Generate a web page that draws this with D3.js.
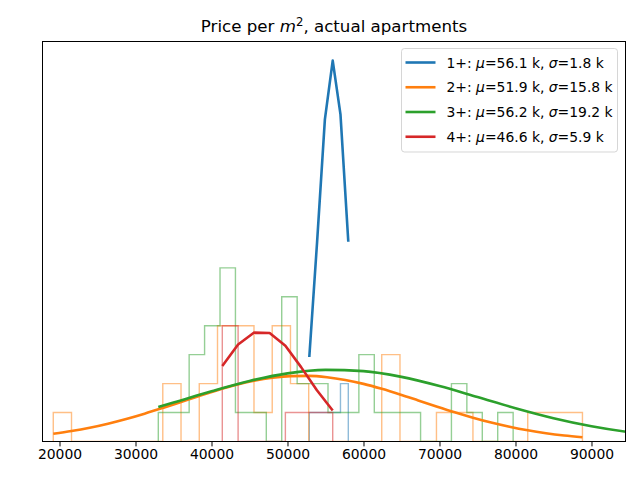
<!DOCTYPE html>
<html><head><meta charset="utf-8">
<script src="https://cdn.jsdelivr.net/npm/d3@7/dist/d3.min.js"></script>
<style>
body{margin:0;background:#fff}
svg{display:block}
text{font-family:"DejaVu Sans",sans-serif;fill:#000}
</style>
</head><body>
<svg id="chart" width="640" height="480"></svg>
<script>
// ---------------- data ----------------
const seriesNames = ["1+", "2+", "3+", "4+"];
const seriesMu = [56.1, 51.9, 56.2, 46.6];
const seriesSigma = [1.8, 15.8, 19.2, 5.9];
const seriesColors = ["#1f77b4", "#ff7f0e", "#2ca02c", "#d62728"];

const xTicks = [20000, 30000, 40000, 50000, 60000, 70000, 80000, 90000];

// histogram bin edges and counts
const blueBinEdges = [52870, 53895, 54920, 55950, 56970, 58000];
const blueCounts = [1, 1, 1, 1, 2];

const orangeBinEdges = [19180, 21580, 23980, 26380, 28780, 31190, 33590, 35990, 38390, 40790,
  43190, 45590, 47990, 50390, 52790, 55200, 57600, 60000, 62400, 64800, 67200, 69600, 72000,
  74400, 76800, 79210, 81610, 84010, 86410, 88810];
const orangeCounts = [1, 0, 0, 0, 0, 0, 2, 0, 2, 4, 4, 1, 4, 2, 0, 0, 0, 0, 3, 0, 0, 1, 1, 0, 0, 0, 1, 1, 1];

const greenBinEdges = [33000, 35030, 37060, 39090, 41120, 43150, 45180, 47210, 49240, 51270,
  53300, 55330, 57360, 59390, 61420, 63450, 65480, 67510, 69540, 71570, 73600, 75630, 77660, 79690];
const greenCounts = [1, 1, 3, 4, 6, 1, 1, 0, 5, 2, 2, 1, 1, 3, 1, 1, 1, 0, 0, 2, 1, 0, 1];

const redBinEdges = [41420, 43500, 45570, 47650, 49720, 51790, 53870, 55950];
const redCounts = [4, 0, 0, 0, 1, 1, 1];

// fitted density curves (same units as the histograms)
const blueCurveX = [52870, 53895, 54920, 55950, 56970, 58000];
const blueCurveY = [2.92, 6.9, 11.13, 13.16, 11.30, 6.90];

const orangeCurveX = [19180, 21580, 23980, 26380, 28780, 31190, 33590, 35990, 38390, 40790,
  43190, 45590, 47990, 50390, 52790, 55200, 57600, 60000, 62400, 64800, 67200, 69600, 72000,
  74400, 76800, 79210, 81610, 84010, 86410, 88810];
const orangeCurveY = [0.266, 0.360, 0.476, 0.616, 0.778, 0.961, 1.160, 1.367, 1.575, 1.773,
  1.950, 2.096, 2.202, 2.260, 2.266, 2.221, 2.127, 1.991, 1.820, 1.627, 1.420, 1.212, 1.011,
  0.824, 0.656, 0.510, 0.387, 0.288, 0.209, 0.148];

const greenCurveX = [33000, 35000, 40000, 45000, 50000, 55000, 60000, 65000, 70000, 75000,
  80000, 85000, 90000, 95000, 100000];
const greenCurveY = [1.195, 1.348, 1.737, 2.092, 2.354, 2.475, 2.432, 2.233, 1.916, 1.536,
  1.150, 0.805, 0.527, 0.322, 0.184];

const redCurveX = [41420, 43500, 45570, 47650, 49720, 51790, 53870, 55950];
const redCurveY = [2.61, 3.35, 3.76, 3.75, 3.31, 2.57, 1.77, 1.07];

// ---------------- layout ----------------
const L = 42.5, R = 625.5, T = 41.5, B = 441.5;
const svg = d3.select("#chart");

const x = d3.scaleLinear().domain([17763, 94474]).range([L, R]);
const y = d3.scaleLinear().domain([0, 13.82]).range([B, T]);

svg.append("defs").append("clipPath").attr("id", "clip")
  .append("rect").attr("x", L).attr("y", T).attr("width", R - L).attr("height", B - T);

const plot = svg.append("g").attr("clip-path", "url(#clip)");

const hists = [
  [blueBinEdges, blueCounts],
  [orangeBinEdges, orangeCounts],
  [greenBinEdges, greenCounts],
  [redBinEdges, redCounts]
];
const curves = [
  [blueCurveX, blueCurveY, d3.curveLinear],
  [orangeCurveX, orangeCurveY, d3.curveMonotoneX],
  [greenCurveX, greenCurveY, d3.curveMonotoneX],
  [redCurveX, redCurveY, d3.curveLinear]
];

function stepPath(edges, counts) {
  const pts = [[edges[0], 0]];
  counts.forEach((c, i) => { pts.push([edges[i], c]); pts.push([edges[i + 1], c]); });
  pts.push([edges[edges.length - 1], 0]);
  return d3.line().x(d => x(d[0])).y(d => y(d[1]))(pts);
}

hists.forEach((h, i) => {
  plot.append("path")
    .attr("d", stepPath(h[0], h[1]))
    .attr("fill", "none")
    .attr("stroke", seriesColors[i])
    .attr("stroke-opacity", 0.5)
    .attr("stroke-width", 1.4)
    .attr("stroke-linejoin", "miter");
});

curves.forEach((c, i) => {
  const pts = c[0].map((v, j) => [v, c[1][j]]);
  plot.append("path")
    .attr("d", d3.line().x(d => x(d[0])).y(d => y(d[1])).curve(c[2])(pts))
    .attr("fill", "none")
    .attr("stroke", seriesColors[i])
    .attr("stroke-width", 2.6)
    .attr("stroke-linecap", "butt")
    .attr("stroke-linejoin", "round");
});

// frame
svg.append("rect").attr("x", L).attr("y", T).attr("width", R - L).attr("height", B - T)
  .attr("fill", "none").attr("stroke", "#000").attr("stroke-width", 1);

// x axis
const xAxis = d3.axisBottom(x).tickValues(xTicks).tickFormat(d3.format("d"))
  .tickSize(4.9).tickPadding(3.2);
const gx = svg.append("g").attr("transform", `translate(0,${B})`).call(xAxis);
gx.select(".domain").remove();
gx.selectAll(".tick line").attr("stroke", "#000").attr("stroke-width", 1);
gx.selectAll(".tick text").attr("font-size", "13.9px").attr("font-family", "DejaVu Sans").attr("fill", "#000");

// title
const title = svg.append("text").attr("x", (L + R) / 2).attr("y", 32)
  .attr("text-anchor", "middle").attr("font-size", "16.67px");
title.append("tspan").text("Price per ");
title.append("tspan").attr("font-style", "italic").text("m");
title.append("tspan").attr("font-size", "11.7px").attr("dy", -6.5).text("2");
title.append("tspan").attr("dy", 6.5).text(", actual apartments");

// legend
const lg = svg.append("g");
lg.append("rect").attr("x", 401.5).attr("y", 48.5).attr("width", 216).attr("height", 103.5)
  .attr("rx", 3).attr("ry", 3)
  .attr("fill", "#fff").attr("fill-opacity", 0.8)
  .attr("stroke", "#cccccc").attr("stroke-opacity", 0.8).attr("stroke-width", 1);
const rowY = [62.5, 87.25, 112, 136.75];
seriesNames.forEach((n, i) => {
  lg.append("line").attr("x1", 405.5).attr("x2", 435.5).attr("y1", rowY[i]).attr("y2", rowY[i])
    .attr("stroke", seriesColors[i]).attr("stroke-width", 2.6);
  const t = lg.append("text").attr("x", 446.5).attr("y", rowY[i] + 5).attr("font-size", "13.9px");
  t.append("tspan").text(n + ": ");
  t.append("tspan").attr("font-style", "italic").text("μ");
  t.append("tspan").text("=" + seriesMu[i].toFixed(1) + " k, ");
  t.append("tspan").attr("font-style", "italic").text("σ");
  t.append("tspan").text("=" + seriesSigma[i].toFixed(1) + " k");
});
</script>
</body></html>
